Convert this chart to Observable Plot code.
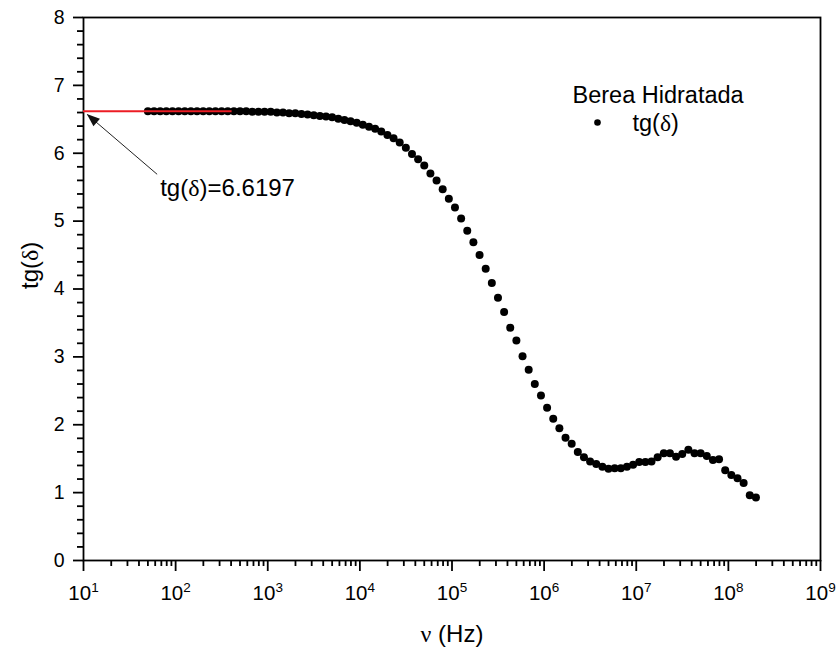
<!DOCTYPE html>
<html>
<head>
<meta charset="utf-8">
<script src="https://cdn.jsdelivr.net/npm/d3@7"></script>
<script src="https://cdn.jsdelivr.net/npm/@observablehq/plot@0.6"></script>
<style>
  html, body { margin: 0; padding: 0; background: white; }
  svg g[aria-label="x-axis tick label"] { font-size: 20.5px !important; }
  svg g[aria-label="y-axis tick label"] { font-size: 19.5px !important; }
</style>
</head>
<body>
<script>
// ---- data ----
const freq = [
  50, 58.3, 68.0, 79.2, 92.4, 107.7, 125.6, 146.4, 170.7, 199.1, 232.1, 270.6, 315.5, 367.8, 428.8,
  500, 583, 680, 792, 924, 1077, 1256, 1464, 1707, 1991, 2321, 2706, 3155, 3678, 4288,
  5000, 5830, 6800, 7920, 9240, 10770, 12560, 14640, 17070, 19910, 23210, 27060, 31550, 36780, 42880,
  5.0e4, 5.83e4, 6.80e4, 7.92e4, 9.24e4, 1.077e5, 1.256e5, 1.464e5, 1.707e5, 1.991e5, 2.321e5, 2.706e5, 3.155e5, 3.678e5, 4.288e5,
  5.0e5, 5.83e5, 6.80e5, 7.92e5, 9.24e5, 1.077e6, 1.256e6, 1.464e6, 1.707e6, 1.991e6, 2.321e6, 2.706e6, 3.155e6, 3.678e6, 4.288e6,
  5.0e6, 5.83e6, 6.80e6, 7.92e6, 9.24e6, 1.077e7, 1.256e7, 1.464e7, 1.707e7, 1.991e7, 2.321e7, 2.706e7, 3.155e7, 3.678e7, 4.288e7,
  5.0e7, 5.83e7, 6.80e7, 7.92e7, 9.24e7, 1.077e8, 1.256e8, 1.464e8, 1.707e8, 1.991e8
];
const tgDelta = [
  6.62, 6.62, 6.62, 6.62, 6.62, 6.62, 6.62, 6.62, 6.62, 6.62, 6.62, 6.62, 6.62, 6.62, 6.62,
  6.62, 6.62, 6.61, 6.61, 6.61, 6.61, 6.60, 6.60, 6.59, 6.59, 6.58, 6.57, 6.56, 6.55, 6.54,
  6.53, 6.51, 6.49, 6.47, 6.45, 6.42, 6.39, 6.36, 6.32, 6.27, 6.22, 6.16, 6.08, 5.99, 5.91,
  5.82, 5.70, 5.60, 5.47, 5.33, 5.20, 5.04, 4.86, 4.69, 4.50, 4.30, 4.09, 3.87, 3.66, 3.43,
  3.24, 3.01, 2.81, 2.60, 2.43, 2.25, 2.09, 1.95, 1.81, 1.72, 1.60, 1.52, 1.46, 1.42, 1.38,
  1.35, 1.36, 1.36, 1.38, 1.41, 1.45, 1.45, 1.46, 1.52, 1.58, 1.58, 1.53, 1.57, 1.63, 1.58,
  1.58, 1.54, 1.48, 1.49, 1.33, 1.26, 1.21, 1.14, 0.96, 0.93
];
const seriesName = "tg(δ)";
const legendTitle = "Berea Hidratada";
const fitValue = 6.6197;
const fitRange = [10, 410];
const fitLabel = "tg(δ)=6.6197";
const arrowTail = {x: 63, y: 5.69};
const arrowTip = {x: 11.0, y: 6.57};
const labelPos = {x: 68, y: 5.48};
const xMajor = [1e1, 1e2, 1e3, 1e4, 1e5, 1e6, 1e7, 1e8, 1e9];
const yMajor = [0, 1, 2, 3, 4, 5, 6, 7, 8];
const xLabel = "ν (Hz)";
const yLabel = "tg(δ)";

const xMinor = [];
for (let e = 1; e < 9; e++) for (let m = 2; m <= 9; m++) xMinor.push(m * Math.pow(10, e));
const yMinor = [];
for (let v = 0; v <= 40; v++) if (v % 5 !== 0) yMinor.push(v / 5);

const data = freq.map((f, i) => ({f, t: tgDelta[i]}));

const FONT = "'Liberation Sans', Arial, sans-serif";

const svg = Plot.plot({
  width: 840,
  height: 652,
  marginLeft: 83,
  marginRight: 20,
  marginTop: 17,
  marginBottom: 92,
  style: {fontFamily: FONT, fontSize: "19px", color: "black", background: "white"},
  x: {type: "log", domain: [10, 1e9]},
  y: {domain: [0, 8]},
  marks: [
    Plot.axisX({ticks: xMinor, tickSize: 6, tickFormat: () => "", label: null, strokeWidth: 1.8}),
    Plot.axisX({ticks: xMajor, tickSize: 11, tickPadding: 14, fontSize: 20.5, tickFormat: d => "10|" + Math.round(Math.log10(d)), label: null, strokeWidth: 1.8}),
    Plot.axisY({ticks: yMinor, tickSize: 6, tickFormat: () => "", label: null, strokeWidth: 1.8}),
    Plot.axisY({ticks: yMajor, tickSize: 10, tickPadding: 9, fontSize: 19.5, tickFormat: d => String(d), label: null, strokeWidth: 1.8}),
    Plot.frame({stroke: "black", strokeWidth: 1.8}),
    Plot.dot(data, {x: "f", y: "t", r: 4, fill: "black", stroke: "none"}),
    Plot.ruleY([fitValue], {x1: fitRange[0], x2: fitRange[1], stroke: "#ec1c24", strokeWidth: 2}),
    Plot.link([0], {x1: () => arrowTail.x, y1: () => arrowTail.y, x2: () => arrowTip.x, y2: () => arrowTip.y, stroke: "#222", strokeWidth: 1}),
    Plot.text([fitLabel], {x: () => labelPos.x, y: () => labelPos.y, text: d => d, textAnchor: "start", lineAnchor: "middle", fontSize: 24}),
    Plot.text([legendTitle], {text: d => d, frameAnchor: "top-right", dx: -248, dy: 77.5, textAnchor: "start", lineAnchor: "middle", fontSize: 23.5}),
    Plot.dot([seriesName], {frameAnchor: "top-right", dx: -223, dy: 105, r: 3.3, fill: "black"}),
    Plot.text([seriesName], {text: d => d, frameAnchor: "top-right", dx: -188, dy: 105.5, textAnchor: "start", lineAnchor: "middle", fontSize: 23.5}),
    Plot.text([xLabel], {text: d => d, frameAnchor: "bottom", dy: 74, lineAnchor: "middle", fontSize: 24}),
    Plot.text([yLabel], {text: d => d, frameAnchor: "left", dx: -53, rotate: -90, lineAnchor: "middle", fontSize: 24})
  ]
});

// filled arrow head through the plot's scales
const sx = svg.scale("x"), sy = svg.scale("y");
const tx = sx.apply(arrowTip.x), ty = sy.apply(arrowTip.y);
const ax = sx.apply(arrowTail.x), ay = sy.apply(arrowTail.y);
const ang = Math.atan2(ty - ay, tx - ax);
const L = 13, W = 5;
const bx = tx - L * Math.cos(ang), by = ty - L * Math.sin(ang);
const pts = [
  [tx, ty],
  [bx + W * Math.sin(ang), by - W * Math.cos(ang)],
  [bx - W * Math.sin(ang), by + W * Math.cos(ang)]
];
d3.select(svg).append("polygon").attr("points", pts.map(p => p.join(",")).join(" ")).attr("fill", "#111");

// rich text: superscripts and serif Greek letters
const NS = "http://www.w3.org/2000/svg";
const walker = document.createTreeWalker(svg, NodeFilter.SHOW_TEXT);
const nodes = [];
while (walker.nextNode()) nodes.push(walker.currentNode);
for (const n of nodes) {
  const s = n.nodeValue;
  if (s.includes("|")) {
    const [base, exp] = s.split("|");
    n.nodeValue = base;
    const ts = document.createElementNS(NS, "tspan");
    ts.setAttribute("dy", "-0.6em");
    ts.setAttribute("style", "font-size:13.5px");
    ts.textContent = exp;
    n.parentNode.appendChild(ts);
  } else if (/[δν]/.test(s)) {
    const frag = document.createDocumentFragment();
    for (const part of s.split(/([δν])/)) {
      if (!part) continue;
      if (/^[δν]$/.test(part)) {
        const ts = document.createElementNS(NS, "tspan");
        ts.setAttribute("font-family", "'Liberation Serif', 'DejaVu Serif', serif");
        ts.textContent = part;
        frag.appendChild(ts);
      } else {
        frag.appendChild(document.createTextNode(part));
      }
    }
    n.parentNode.replaceChild(frag, n);
  }
}

document.body.appendChild(svg);
</script>
</body>
</html>
